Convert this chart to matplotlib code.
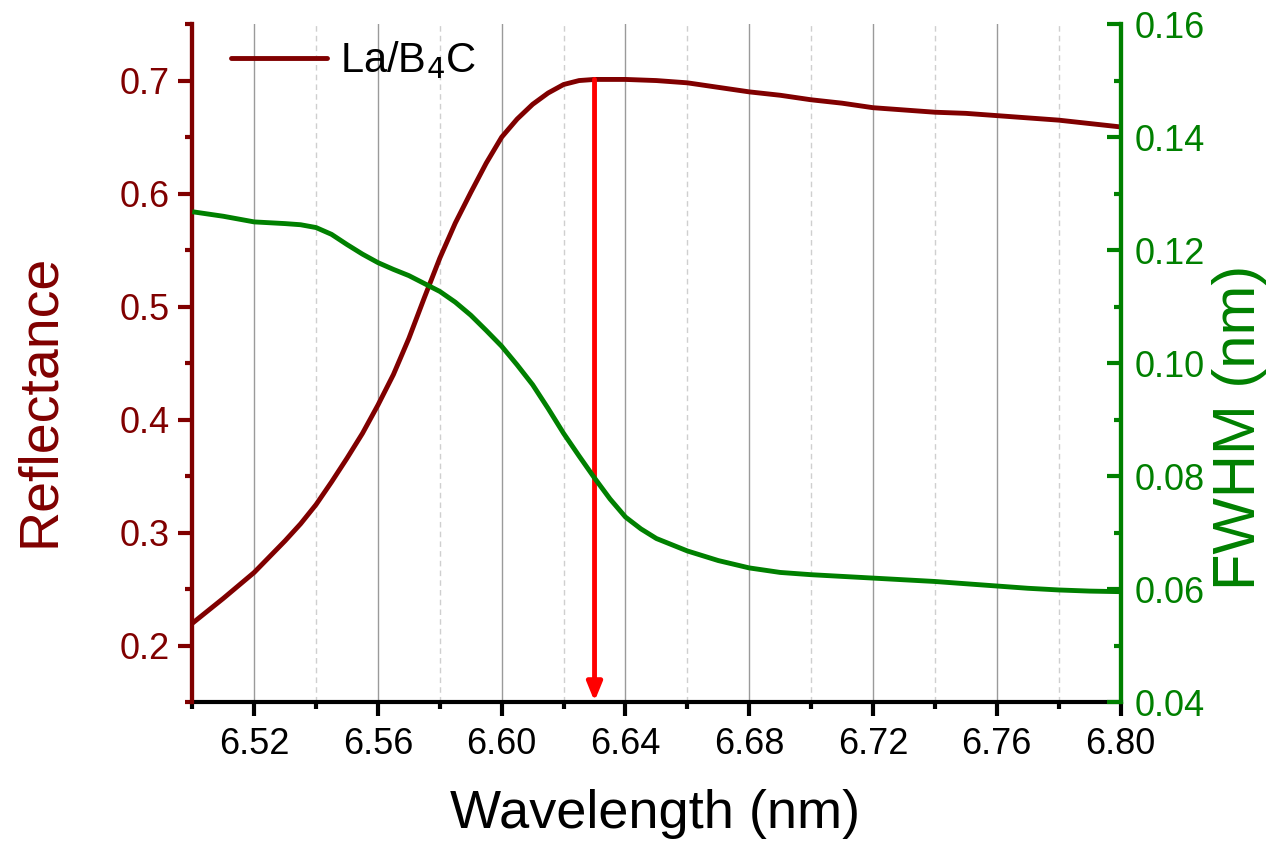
import matplotlib
matplotlib.use("Agg")
import matplotlib.pyplot as plt
from matplotlib.ticker import FixedLocator, FormatStrFormatter
from matplotlib.lines import Line2D

plt.rcParams['font.family'] = ['Liberation Sans', 'DejaVu Sans']

# Wavelength grid (nm); finer sampling across the reflectance edge
wavelength = [6.500, 6.510, 6.520, 6.530, 6.535, 6.540, 6.545, 6.550, 6.555, 6.560,
              6.565, 6.570, 6.575, 6.580, 6.585, 6.590, 6.595, 6.600, 6.605, 6.610,
              6.615, 6.620, 6.625, 6.630, 6.635, 6.640, 6.645, 6.650, 6.660, 6.670,
              6.680, 6.690, 6.700, 6.710, 6.720, 6.730, 6.740, 6.750, 6.760, 6.770,
              6.780, 6.790, 6.800]

# Peak reflectance of the La/B4C multilayer
reflectance = [0.220, 0.242, 0.265, 0.293, 0.308, 0.325, 0.345, 0.366, 0.388, 0.413,
               0.440, 0.472, 0.508, 0.543, 0.574, 0.601, 0.627, 0.650, 0.666, 0.679,
               0.689, 0.6965, 0.700, 0.701, 0.701, 0.701, 0.7005, 0.700, 0.698, 0.694,
               0.690, 0.687, 0.683, 0.680, 0.676, 0.674, 0.672, 0.671, 0.669, 0.667,
               0.665, 0.662, 0.659]

# Bandwidth (FWHM, nm)
fwhm = [0.1268, 0.1260, 0.1250, 0.1247, 0.1245, 0.1240, 0.1228, 0.1210, 0.1193, 0.1178,
        0.1166, 0.1155, 0.1141, 0.1127, 0.1108, 0.1085, 0.1058, 0.1030, 0.0997, 0.0962,
        0.0920, 0.0876, 0.0836, 0.0797, 0.0760, 0.0728, 0.0707, 0.0690, 0.0668, 0.0651,
        0.0638, 0.0630, 0.0626, 0.0623, 0.0620, 0.0617, 0.0614, 0.0610, 0.0606, 0.0602,
        0.0599, 0.0597, 0.0596]

# Marked design wavelength
marker_wl = 6.63
marker_top = 0.701

x_major = [6.52, 6.56, 6.60, 6.64, 6.68, 6.72, 6.76, 6.80]
x_minor = [6.50, 6.54, 6.58, 6.62, 6.66, 6.70, 6.74, 6.78]
r_major = [0.2, 0.3, 0.4, 0.5, 0.6, 0.7]
r_minor = [0.15, 0.25, 0.35, 0.45, 0.55, 0.65, 0.75]
f_major = [0.04, 0.06, 0.08, 0.10, 0.12, 0.14, 0.16]
f_minor = [0.05, 0.07, 0.09, 0.11, 0.13, 0.15]

DARKRED = '#800000'
GREEN = '#008000'

fig = plt.figure(figsize=(12.71, 8.43), dpi=100)
ax = fig.add_axes([0.1513, 0.1667, 0.7303, 0.8048])
ax2 = ax.twinx()

ax.set_xlim(6.50, 6.80)
ax.set_ylim(0.15, 0.75)
ax2.set_ylim(0.04, 0.16)

# vertical grid
for xv in x_major[:-1]:
    ax.axvline(xv, color='#9a9a9a', lw=1.0, zorder=0)
for xv in x_minor[1:]:
    ax.axvline(xv, color='#cfcfcf', lw=1.0, ls=(0, (4, 3)), zorder=0)

ax.plot(wavelength, reflectance, color=DARKRED, lw=3.5, solid_capstyle='round',
        solid_joinstyle='round', zorder=3)
ax2.plot(wavelength, fwhm, color=GREEN, lw=3.5, solid_capstyle='butt',
         solid_joinstyle='round', zorder=3)

ax.annotate('', xy=(marker_wl, 0.151), xytext=(marker_wl, marker_top),
            arrowprops=dict(arrowstyle='-|>,head_width=0.45,head_length=1.1',
                            color='#ff0000', lw=3.5, shrinkA=0, shrinkB=0),
            zorder=5)

# ticks
ax.xaxis.set_major_locator(FixedLocator(x_major))
ax.xaxis.set_minor_locator(FixedLocator(x_minor))
ax.xaxis.set_major_formatter(FormatStrFormatter('%.2f'))
ax.yaxis.set_major_locator(FixedLocator(r_major))
ax.yaxis.set_minor_locator(FixedLocator(r_minor))
ax.yaxis.set_major_formatter(FormatStrFormatter('%.1f'))
ax2.yaxis.set_major_locator(FixedLocator(f_major))
ax2.yaxis.set_minor_locator(FixedLocator(f_minor))
ax2.yaxis.set_major_formatter(FormatStrFormatter('%.2f'))

ax.tick_params(axis='x', which='major', direction='out', length=10, width=3,
               color='black', labelsize=26, pad=8, labelcolor='black')
ax.tick_params(axis='x', which='minor', direction='out', length=5, width=3, color='black')
ax.tick_params(axis='y', which='major', direction='out', length=10, width=3,
               color=DARKRED, labelcolor=DARKRED, labelsize=26, pad=6)
ax.tick_params(axis='y', which='minor', direction='out', length=5, width=3, color=DARKRED)
ax2.tick_params(axis='y', which='major', direction='in', length=10, width=3,
                color=GREEN, labelcolor=GREEN, labelsize=26, pad=10)
ax2.tick_params(axis='y', which='minor', direction='in', length=5, width=3, color=GREEN)

for a in (ax, ax2):
    a.spines['top'].set_visible(False)
    a.spines['bottom'].set_color('black')
    a.spines['bottom'].set_linewidth(3)
    a.spines['left'].set_color(DARKRED)
    a.spines['left'].set_linewidth(3)
    a.spines['right'].set_color(GREEN)
    a.spines['right'].set_linewidth(3)
ax2.spines['bottom'].set_visible(False)

ax.set_xlabel('Wavelength (nm)', fontsize=39, va='center')
ax.xaxis.set_label_coords(0.4985, -0.165)
ax.set_ylabel('Reflectance', fontsize=40, color=DARKRED, va='center')
ax.yaxis.set_label_coords(-0.164, 0.445)
ax2.set_ylabel('FWHM (nm)', fontsize=43, color=GREEN, va='center')
ax2.yaxis.set_label_coords(1.1287, 0.405)

handle = Line2D([], [], color=DARKRED, lw=3.5, solid_capstyle='round')
ax.legend([handle], ['La/B$_4$C'], loc='upper left', frameon=False, fontsize=30,
          handlelength=2.3, handletextpad=0.3, borderaxespad=0.3,
          bbox_to_anchor=(0.0106, 1.0206))

fig.savefig('out.png', dpi=100)
